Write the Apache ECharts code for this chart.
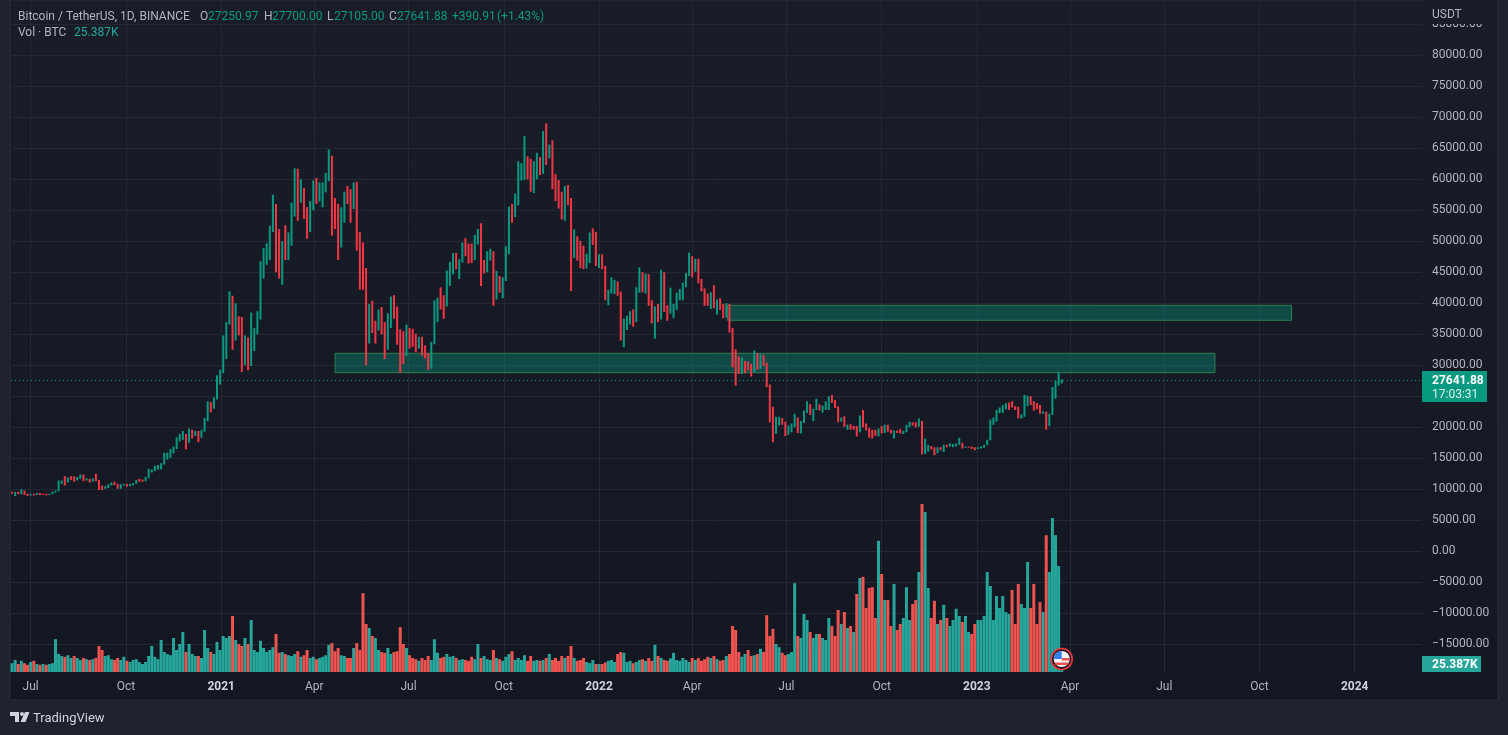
<!DOCTYPE html>
<html>
<head>
<meta charset="utf-8">
<title>BTCUSDT</title>
<style>
html, body { margin: 0; padding: 0; background: #1e222d; }
#chart { width: 1508px; height: 735px; }
</style>
<script src="https://cdn.jsdelivr.net/npm/echarts@6/dist/echarts.min.js"></script>
</head>
<body>
<div id="chart"></div>
<script>
// one candle every 3 days from 2020-06-13, prices in thousands of USDT, volume in thousands of BTC
var firstDay = Date.UTC(2020, 5, 12)
var dayCount = 1364
var candleOffset = 1
var candleStep = 3

var opens = [
  9.4,9.4,9.5,9.3,9.7,9.2,9.1,9.2,9.1,9.3,
  9.2,9.2,9.1,9.2,9.5,9.7,11.0,11.3,11.2,11.7,
  11.7,11.6,11.9,12.0,11.5,11.7,11.3,11.7,11.4,10.2,
  10.1,10.4,10.7,11.0,10.9,10.2,10.7,10.8,10.6,10.8,
  10.9,11.4,11.4,11.4,11.9,12.9,13.0,13.4,13.7,14.1,
  14.8,15.3,16.3,16.7,17.8,18.4,18.7,17.7,18.7,18.7,
  19.2,18.5,19.4,21.3,23.9,23.2,24.7,27.0,29.0,32.2,
  36.8,40.6,35.4,36.8,36.6,30.8,32.3,30.4,34.3,35.5,
  38.3,46.4,47.9,48.9,52.1,55.9,48.9,46.3,49.6,48.4,
  51.2,55.9,61.2,56.8,58.0,54.1,52.3,55.8,58.9,57.0,
  58.0,58.1,60.0,63.2,55.7,53.8,50.0,55.0,57.7,57.2,
  56.4,58.2,49.2,46.7,42.9,37.3,38.8,35.7,35.7,37.6,
  35.8,33.6,37.3,40.5,38.1,35.6,32.5,32.0,35.9,33.8,
  33.7,32.9,34.3,32.8,31.4,29.8,33.6,37.3,40.0,39.8,
  39.7,44.6,45.6,47.8,46.0,46.8,49.3,49.0,48.9,47.1,
  50.0,51.8,46.1,46.1,48.1,48.3,40.7,42.7,42.2,43.8,
  48.2,55.3,54.9,56.0,61.5,62.0,62.2,60.9,58.4,61.9,
  63.2,61.0,67.5,64.9,65.5,60.4,59.7,56.3,53.7,57.8,
  56.5,49.4,50.6,49.4,48.3,46.2,46.9,50.8,50.8,46.5,
  47.7,45.8,41.6,41.8,42.6,43.1,41.7,35.1,36.9,37.7,
  38.5,37.3,42.4,44.4,42.2,44.6,39.9,37.0,38.3,37.7,
  43.9,39.4,38.7,38.8,39.7,40.9,41.3,42.9,44.5,47.1,
  46.3,46.6,43.5,42.2,41.1,40.4,41.5,39.7,40.4,39.7,
  38.5,39.7,35.5,31.0,30.1,29.8,30.3,30.3,29.5,29.0,
  31.8,29.7,31.4,30.1,26.6,22.6,19.0,20.6,21.2,20.7,
  18.9,19.3,20.2,21.6,19.3,20.8,22.4,23.2,22.6,22.9,
  23.6,22.9,23.3,23.8,24.4,24.3,23.3,21.1,21.5,20.2,
  20.3,20.0,20.0,19.3,21.8,20.2,19.7,19.5,19.4,18.8,
  19.4,19.3,20.3,19.5,19.1,19.4,19.3,19.1,19.2,20.1,
  20.6,20.5,20.2,20.9,15.9,16.8,16.9,16.7,15.8,16.6,
  16.4,17.2,16.9,17.0,17.1,17.2,17.4,16.7,16.8,16.8,
  16.7,16.6,16.7,16.8,17.1,17.9,21.0,21.1,22.7,22.9,
  23.0,23.7,23.7,23.3,23.2,21.6,21.8,23.7,24.3,24.2,
  23.2,23.1,22.3,22.4,20.4,22.1,24.7,26.9,27.25097
]
var closes = [
  9.4,9.5,9.3,9.7,9.2,9.1,9.2,9.1,9.3,9.2,
  9.2,9.1,9.2,9.5,9.7,11.0,11.3,11.2,11.7,11.7,
  11.6,11.9,12.0,11.5,11.7,11.3,11.7,11.4,10.2,10.1,
  10.4,10.7,11.0,10.9,10.2,10.7,10.8,10.6,10.8,10.9,
  11.4,11.4,11.4,11.9,12.9,13.0,13.4,13.7,14.1,14.8,
  15.3,16.3,16.7,17.8,18.4,18.7,17.7,18.7,18.7,19.2,
  18.5,19.4,21.3,23.9,23.2,24.7,27.0,29.0,32.2,36.8,
  40.6,35.4,36.8,36.6,30.8,32.3,30.4,34.3,35.5,38.3,
  46.4,47.9,48.9,52.1,55.9,48.9,46.3,49.6,48.4,51.2,
  55.9,61.2,56.8,58.0,54.1,52.3,55.8,58.9,57.0,58.0,
  58.1,60.0,63.2,55.7,53.8,50.0,55.0,57.7,57.2,56.4,
  58.2,49.2,46.7,42.9,37.3,38.8,35.7,35.7,37.6,35.8,
  33.6,37.3,40.5,38.1,35.6,32.5,32.0,35.9,33.8,33.7,
  32.9,34.3,32.8,31.4,29.8,33.6,37.3,40.0,39.8,39.7,
  44.6,45.6,47.8,46.0,46.8,49.3,49.0,48.9,47.1,50.0,
  51.8,46.1,46.1,48.1,48.3,40.7,42.7,42.2,43.8,48.2,
  55.3,54.9,56.0,61.5,62.0,62.2,60.9,58.4,61.9,63.2,
  61.0,67.5,64.9,65.5,60.4,59.7,56.3,53.7,57.8,56.5,
  49.4,50.6,49.4,48.3,46.2,46.9,50.8,50.8,46.5,47.7,
  45.8,41.6,41.8,42.6,43.1,41.7,35.1,36.9,37.7,38.5,
  37.3,42.4,44.4,42.2,44.6,39.9,37.0,38.3,37.7,43.9,
  39.4,38.7,38.8,39.7,40.9,41.3,42.9,44.5,47.1,46.3,
  46.6,43.5,42.2,41.1,40.4,41.5,39.7,40.4,39.7,38.5,
  39.7,35.5,31.0,30.1,29.8,30.3,30.3,29.5,29.0,31.8,
  29.7,31.4,30.1,26.6,22.6,19.0,20.6,21.2,20.7,18.9,
  19.3,20.2,21.6,19.3,20.8,22.4,23.2,22.6,22.9,23.6,
  22.9,23.3,23.8,24.4,24.3,23.3,21.1,21.5,20.2,20.3,
  20.0,20.0,19.3,21.8,20.2,19.7,19.5,19.4,18.8,19.4,
  19.3,20.3,19.5,19.1,19.4,19.3,19.1,19.2,20.1,20.6,
  20.5,20.2,20.9,15.9,16.8,16.9,16.7,15.8,16.6,16.4,
  17.2,16.9,17.0,17.1,17.2,17.4,16.7,16.8,16.8,16.7,
  16.6,16.7,16.8,17.1,17.9,21.0,21.1,22.7,22.9,23.0,
  23.7,23.7,23.3,23.2,21.6,21.8,23.7,24.3,24.2,23.2,
  23.1,22.3,22.4,20.4,22.1,24.7,26.9,27.9,27.64188
]
var highs = [
  9.6,9.6,9.6,10.0,9.8,9.3,9.3,9.3,9.4,9.4,
  9.3,9.3,9.3,9.6,9.8,11.4,11.4,12.1,11.9,12.1,
  12.1,12.0,12.4,12.4,11.8,11.7,11.8,12.5,11.5,10.6,
  10.5,10.8,11.1,11.2,10.9,10.8,10.9,10.9,10.9,11.0,
  11.5,11.7,11.6,12.0,13.3,13.2,13.8,13.9,14.2,15.9,
  15.9,16.5,16.9,18.4,18.9,19.4,18.9,19.8,19.6,19.4,
  19.4,19.6,21.5,24.2,24.1,24.8,28.4,29.3,34.8,37.0,
  41.9,41.2,40.0,37.9,37.8,34.8,34.5,38.5,36.0,38.7,
  46.8,48.9,49.7,52.5,57.5,56.0,52.0,50.0,52.6,51.4,
  56.2,61.8,61.7,60.0,58.6,55.5,56.5,59.8,60.2,59.5,
  59.5,61.0,64.8,63.8,57.0,56.0,55.5,58.0,58.9,58.4,
  59.5,59.6,51.5,49.8,45.7,39.9,40.4,37.2,39.0,39.4,
  37.0,38.4,41.1,41.3,39.5,35.8,35.5,36.6,36.0,35.9,
  35.1,34.6,34.6,33.2,32.0,33.8,40.5,40.9,42.6,41.3,
  45.3,46.7,48.1,48.1,47.1,49.8,50.5,49.6,49.6,51.0,
  52.0,52.9,47.0,48.4,48.8,48.4,45.2,44.4,44.2,49.2,
  55.6,56.0,57.7,62.9,62.6,67.0,63.7,63.3,62.9,64.3,
  63.6,67.8,69.0,65.6,66.3,60.8,59.9,58.0,58.9,59.1,
  57.0,51.9,50.8,50.1,49.3,48.0,51.4,52.1,51.5,47.9,
  47.9,46.0,42.2,44.2,43.8,43.5,41.9,37.5,38.0,38.7,
  39.0,42.6,45.8,45.0,44.8,44.7,40.5,39.5,39.9,45.4,
  45.0,39.7,42.5,39.9,41.7,42.3,43.3,44.9,48.2,47.6,
  47.2,47.2,43.9,42.4,41.6,41.8,42.9,40.6,40.8,39.9,
  40.0,39.9,36.0,32.6,31.4,31.3,30.7,30.6,30.2,32.4,
  32.0,31.8,31.7,30.4,26.9,23.3,21.7,21.7,21.5,20.9,
  20.3,20.6,22.2,21.6,21.0,22.7,24.2,23.7,23.0,24.6,
  23.7,23.5,24.2,25.0,25.2,24.4,23.4,21.6,21.8,20.4,
  20.5,20.2,20.2,21.9,22.8,20.6,19.9,19.6,19.6,19.8,
  20.2,20.4,20.4,19.6,19.5,19.5,19.7,19.4,20.4,20.9,
  20.8,20.8,21.4,21.0,18.2,17.2,17.0,16.8,16.8,16.8,
  17.2,17.2,17.4,17.3,17.4,18.3,17.5,16.9,16.9,16.9,
  16.8,16.8,16.9,17.2,18.0,21.2,21.6,22.8,23.2,23.6,
  23.9,24.0,24.2,23.4,23.3,22.1,25.2,25.1,25.0,24.2,
  23.9,23.6,22.6,22.5,22.2,26.5,27.5,28.9,27.7
]
var lows = [
  9.3,8.9,9.2,9.2,9.1,8.9,9.0,9.0,9.1,9.1,
  9.1,9.0,9.1,9.2,9.5,9.7,10.9,10.6,11.1,11.5,
  11.2,11.4,11.7,11.3,11.4,11.1,11.2,11.3,9.9,9.9,
  10.1,10.2,10.6,10.7,10.1,10.1,10.6,10.4,10.5,10.6,
  10.9,11.2,11.2,11.3,11.8,12.7,12.9,13.2,13.2,14.0,
  14.8,15.1,15.8,16.5,17.7,18.0,16.4,17.5,18.2,18.6,
  17.6,18.3,19.3,21.0,22.4,23.0,24.5,26.9,28.7,31.0,
  36.6,32.5,34.0,34.8,28.9,30.0,29.2,29.9,32.3,35.0,
  37.4,44.0,46.2,47.0,51.5,45.0,44.0,43.0,47.0,47.0,
  49.3,54.0,53.3,56.2,53.6,50.4,51.5,55.0,56.0,56.4,
  55.5,57.9,59.7,50.9,52.0,47.0,49.0,53.0,56.0,53.0,
  55.2,48.5,42.2,42.2,30.0,33.5,35.2,33.5,35.6,35.0,
  31.0,32.5,36.0,37.5,33.3,28.8,30.2,31.5,32.7,33.0,
  32.1,32.7,31.6,31.1,29.3,29.5,33.4,37.0,39.0,37.5,
  39.5,42.8,44.7,45.5,43.9,46.6,47.6,46.4,46.5,47.0,
  49.5,42.8,44.8,45.0,46.9,39.6,40.6,41.7,40.8,43.6,
  47.9,53.0,53.9,55.8,59.8,59.9,60.0,58.0,57.8,60.0,
  60.7,60.9,62.3,63.4,58.4,56.5,55.3,53.5,53.3,55.8,
  42.0,47.3,46.9,45.7,45.5,45.6,46.5,49.4,46.0,45.7,
  45.5,40.5,39.7,41.6,41.5,41.2,34.0,32.9,35.7,36.6,
  36.2,37.0,41.7,41.8,41.6,39.6,36.8,34.3,37.0,37.4,
  38.6,37.2,38.3,37.6,38.9,40.5,40.5,42.6,44.4,44.2,
  45.1,43.2,41.9,39.6,39.6,39.1,39.2,38.2,38.9,37.6,
  37.7,35.3,29.7,26.7,28.6,28.6,28.7,29.2,28.2,28.9,
  29.3,29.4,29.9,26.5,20.8,17.6,18.9,20.3,20.4,18.6,
  18.8,19.2,20.0,19.1,19.0,20.7,22.3,22.0,21.0,22.8,
  22.7,22.4,22.8,22.8,23.9,23.1,20.8,20.9,20.1,19.6,
  19.6,19.6,18.5,19.2,20.0,19.5,18.3,18.2,18.6,18.5,
  19.0,19.1,19.3,19.0,18.2,19.1,19.0,18.9,19.2,20.0,
  20.3,20.0,20.1,15.6,15.7,16.1,16.4,15.5,15.8,16.3,
  16.0,16.8,16.9,16.8,16.9,17.2,16.6,16.7,16.7,16.5,
  16.3,16.5,16.6,16.7,17.1,17.9,20.4,20.9,22.3,22.3,
  22.9,22.8,23.2,22.8,21.4,21.4,21.7,23.4,23.6,22.7,
  22.9,22.2,22.2,19.6,20.2,22.0,24.6,26.7,27.105
]
var volumes = [
  22,30,20,28,22,18,25,28,20,18,
  20,18,20,22,82,45,40,38,42,35,
  40,35,30,35,32,30,32,35,65,55,
  40,42,32,30,35,30,38,28,25,30,
  32,25,20,25,40,65,38,32,80,50,
  45,42,85,55,70,100,50,70,45,40,
  40,35,105,60,50,45,75,55,90,85,
  90,140,80,70,65,85,70,130,55,50,
  78,60,50,55,62,95,48,50,45,42,
  40,45,52,38,42,55,35,38,32,35,
  38,42,68,72,52,60,42,40,35,35,
  60,72,55,197,120,110,90,85,55,50,
  48,60,45,50,52,112,70,60,42,35,
  32,28,35,30,40,30,82,48,35,38,
  45,38,40,35,30,32,30,28,38,32,
  70,35,40,32,30,55,35,32,28,38,
  45,52,30,35,30,42,28,40,28,30,
  28,30,35,45,30,35,28,40,35,40,
  65,35,28,30,35,25,22,30,20,20,
  20,24,28,30,25,45,50,48,25,28,
  22,25,30,32,28,35,28,68,40,35,
  30,28,34,48,30,28,35,30,25,35,
  30,35,28,32,38,35,40,32,28,30,
  40,45,115,105,50,38,45,55,40,42,
  45,58,50,142,90,108,70,62,48,42,
  45,50,222,90,85,145,130,100,85,95,
  95,85,80,135,115,90,155,120,150,110,
  115,100,195,235,238,160,210,212,135,328,
  245,180,180,115,220,105,120,135,212,130,
  170,180,250,420,400,210,135,178,120,130,
  168,135,115,130,158,140,125,140,100,95,
  120,130,130,140,250,215,130,190,160,190,
  150,145,205,120,220,170,160,275,160,220,
  120,175,150,342,250,385,342,265,25.387
]

var tickDays = ['2020-07-01', '2020-10-01', '2021-01-01', '2021-04-01', '2021-07-01', '2021-10-01', '2022-01-01', '2022-04-01', '2022-07-01', '2022-10-01', '2023-01-01', '2023-04-01', '2023-07-01', '2023-10-01', '2024-01-01']
var tickNames = ['Jul', 'Oct', '2021', 'Apr', 'Jul', 'Oct', '2022', 'Apr', 'Jul', 'Oct', '2023', 'Apr', 'Jul', 'Oct', '2024']

// the two drawn boxes
var zoneStarts = ['2021-04-21', '2022-05-05']
var zoneEnds = ['2023-08-19', '2023-11-01']
var zoneTops = [31935, 39677]
var zoneBottoms = [28806, 37258]

var lastPrice = 27641.88

var upColor = '#089981'
var downColor = '#f23645'
var volUp = '#26a69a'
var volDown = '#ef5350'
var gridColor = '#242833'
var textColor = '#b2b5be'
var font = 'Roboto'

var days = []
for (var d = 0; d < dayCount; d++) {
  days.push(new Date(firstDay + d * 86400000).toISOString().slice(0, 10))
}

var candleData = days.map(function () { return ['-', '-', '-', '-'] })
var volData = days.map(function () { return '-' })
closes.forEach(function (c, i) {
  var at = candleOffset + i * candleStep
  candleData[at] = [opens[i] * 1000, c * 1000, lows[i] * 1000, highs[i] * 1000]
  volData[at] = {
    value: volumes[i],
    itemStyle: { color: c >= opens[i] ? volUp : volDown }
  }
})

var isTick = function (i, name) { return tickDays.indexOf(name) >= 0 }

var text = function (x, y, s, color, extra) {
  return {
    type: 'text', z: 110, x: x, y: y,
    style: Object.assign({ text: s, fill: color, font: '12px ' + font, textVerticalAlign: 'middle' }, extra || {})
  }
}

var chart = echarts.init(document.getElementById('chart'), null, { renderer: 'canvas' })
chart.setOption({
  animation: false,
  backgroundColor: '#1e222d',
  grid: [
    { left: 11, width: 1411, top: -6.7, height: 682, outerBoundsMode: 'none' },
    { left: 11, width: 1411, top: 2, height: 670, outerBoundsMode: 'none' }
  ],
  xAxis: [
    { type: 'category', gridIndex: 0, data: days, boundaryGap: false, show: false },
    {
      type: 'category', gridIndex: 1, data: days, boundaryGap: false,
      axisLine: { show: false },
      axisTick: { show: false },
      splitLine: { show: true, interval: isTick, lineStyle: { color: gridColor, width: 1 } },
      axisLabel: {
        interval: isTick, color: textColor, fontFamily: font, fontSize: 12, margin: 9,
        hideOverlap: false,
        formatter: function (v) {
          var name = tickNames[tickDays.indexOf(v)]
          return name.length === 4 ? '{y|' + name + '}' : name
        },
        rich: { y: { color: '#d1d4dc', fontFamily: font, fontSize: 12, fontWeight: 'bold' } }
      }
    }
  ],
  yAxis: [
    {
      type: 'value', gridIndex: 0, position: 'right', min: -20000, max: 90000, interval: 5000,
      axisLine: { show: false },
      axisTick: { show: false },
      splitLine: { show: true, showMinLine: false, showMaxLine: false, lineStyle: { color: gridColor, width: 1 } },
      axisLabel: {
        color: textColor, fontFamily: font, fontSize: 12, margin: 10,
        showMinLabel: false, showMaxLabel: false,
        formatter: function (v) { return (v < 0 ? '\u2212' : '') + Math.abs(v).toFixed(2) }
      }
    },
    { type: 'value', gridIndex: 1, min: 0, max: 1675, show: false, splitLine: { show: false } }
  ],
  series: [
    {
      type: 'bar', name: 'Vol', xAxisIndex: 1, yAxisIndex: 1, data: volData,
      barWidth: 3, z: 2, silent: true
    },
    {
      type: 'candlestick', name: 'BTCUSDT', xAxisIndex: 0, yAxisIndex: 0, data: candleData,
      barWidth: 3, z: 3, silent: true,
      itemStyle: { color: upColor, color0: downColor, borderColor: upColor, borderColor0: downColor, borderWidth: 2 },
      markArea: {
        silent: true,
        itemStyle: { color: 'rgba(8,153,129,0.38)', borderColor: '#2e7d4f', borderWidth: 1 },
        data: zoneStarts.map(function (s, i) {
          return [{ xAxis: s, yAxis: zoneTops[i] }, { xAxis: zoneEnds[i], yAxis: zoneBottoms[i] }]
        })
      },
      markLine: {
        silent: true, symbol: 'none', label: { show: false },
        lineStyle: { color: upColor, type: [1, 3], width: 1 },
        data: [{ yAxis: lastPrice }]
      }
    }
  ],
  graphic: [
    // pane background and border
    {
      type: 'rect', z: -10, shape: { x: 10, y: 0, width: 1488, height: 700 },
      style: {
        stroke: '#2a2e39', lineWidth: 1,
        fill: new echarts.graphic.LinearGradient(0, 0, 0, 1, [{ offset: 0, color: '#191d28' }, { offset: 1, color: '#131722' }])
      }
    },
    // cover for the top of the price scale, so 85000 is cut like in the original
    { type: 'rect', z: 100, shape: { x: 1424, y: 0, width: 72, height: 24 }, style: { fill: '#191d28' } },
    text(1432, 14.5, 'USDT', textColor),
    text(18, 16.5, 'Bitcoin / TetherUS, 1D, BINANCE', textColor),
    text(200, 16.5, 'O', textColor),
    text(208, 16.5, '27250.97', upColor),
    text(264, 16.5, 'H', textColor),
    text(272, 16.5, '27700.00', upColor),
    text(327, 16.5, 'L', textColor),
    text(334, 16.5, '27105.00', upColor),
    text(389, 16.5, 'C', textColor),
    text(397, 16.5, '27641.88', upColor),
    text(452, 16.5, '+390.91', upColor),
    text(497, 16.5, '(+1.43%)', upColor),
    text(18, 32.5, 'Vol \u00b7 BTC', textColor),
    text(74, 32.5, '25.387K', volUp),
    // last price and volume tags
    { type: 'rect', z: 100, shape: { x: 1422, y: 371, width: 65, height: 31 }, style: { fill: upColor } },
    text(1432, 380.5, '27641.88', '#ffffff', { font: 'bold 12px ' + font }),
    text(1432, 394.5, '17:03:31', '#d9f0ea'),
    { type: 'rect', z: 100, shape: { x: 1422, y: 656, width: 59, height: 16 }, style: { fill: volUp } },
    text(1432, 665, '25.387K', '#ffffff', { font: 'bold 12px ' + font }),
    // flag marker
    { type: 'circle', z: 105, shape: { cx: 1061.7, cy: 659, r: 10.5 }, style: { fill: '#131722', stroke: downColor, lineWidth: 1.6 } },
    { type: 'circle', z: 106, shape: { cx: 1061.7, cy: 659, r: 8 }, style: { fill: '#f5f5f5' } },
    { type: 'rect', z: 107, shape: { x: 1061.7, y: 658, width: 8, height: 2.5 }, style: { fill: '#ef5350' } },
    { type: 'rect', z: 107, shape: { x: 1055, y: 662.5, width: 13.4, height: 2.5 }, style: { fill: '#ef5350' } },
    { type: 'polygon', z: 107, shape: { points: [[1061.7, 651], [1061.7, 659], [1053.7, 659], [1054.8, 655], [1057.5, 652.2]] }, style: { fill: '#2f80ed' } },
    // TradingView mark
    { type: 'polygon', z: 110, shape: { points: [[10, 712], [19, 712], [19, 722], [15, 722], [15, 716], [10, 716]] }, style: { fill: '#d1d4dc' } },
    { type: 'circle', z: 110, shape: { cx: 22, cy: 714, r: 2 }, style: { fill: '#d1d4dc' } },
    { type: 'polygon', z: 110, shape: { points: [[25, 712], [29.5, 712], [25.5, 722], [20.5, 722]] }, style: { fill: '#d1d4dc' } },
    text(33, 718.5, 'TradingView', '#d1d4dc', { font: '13px ' + font })
  ]
})
</script>
</body>
</html>
